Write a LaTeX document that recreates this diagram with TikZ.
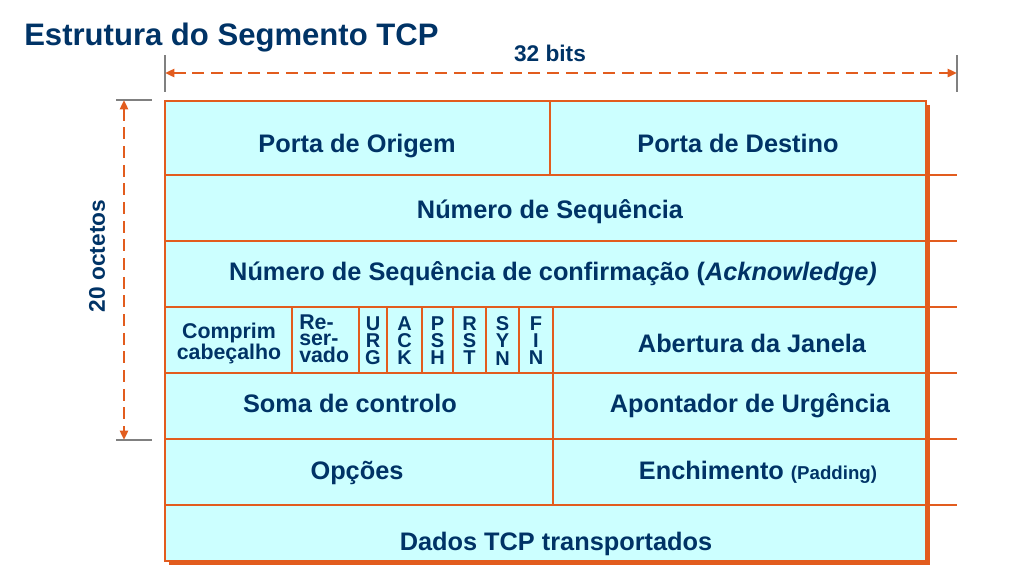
\documentclass[tikz,border=0pt]{standalone}
\usepackage{fontspec}
\setmainfont{Liberation Sans}
\usetikzlibrary{arrows.meta}
\definecolor{tcporange}{RGB}{226,92,30}
\definecolor{tcpnavy}{RGB}{0,51,102}
\definecolor{tcpcyan}{RGB}{204,255,255}
\definecolor{tcpgray}{RGB}{128,128,128}
\tikzset{
    fieldtxt/.style={font=\fontsize{19}{21}\selectfont\bfseries, text=tcpnavy, anchor=base, inner sep=0pt},
    smalltxt/.style={font=\fontsize{16}{14.25}\selectfont\bfseries, text=tcpnavy, anchor=north, inner sep=0pt},
    flagtxt/.style={font=\fontsize{15}{13.1}\selectfont\bfseries, text=tcpnavy, align=center, anchor=north, inner sep=0pt},
    dimtxt/.style={font=\fontsize{17}{19}\selectfont\bfseries, text=tcpnavy, inner sep=0pt},
    gridline/.style={draw=tcporange, line width=1.5pt},
    tickline/.style={draw=tcpgray, line width=1.5pt},
    dimarr/.style={{Triangle[length=7pt,width=6pt]}-{Triangle[length=7pt,width=6pt]}, dash pattern=on 9pt off 5pt, line width=2pt, draw=tcporange}
}
\begin{document}
\begin{tikzpicture}[x=0.75pt,y=-0.75pt]
    \useasboundingbox (0,0) rectangle (1017,576);

    \node[anchor=base west, font=\fontsize{23.3}{26}\selectfont\bfseries, text=tcpnavy, inner sep=0pt] (title) at (24,45) {Estrutura do Segmento TCP};

    % width: 32 bits
    \coordinate (wl) at (165,73);
    \coordinate (wr) at (957,73);
    \draw[tickline] (165,55) -- (165,92);
    \draw[tickline] (957,55) -- (957,92);
    \draw[dimarr] (wl) -- (wr);
    \node[dimtxt, anchor=base] (bits) at (550,61) {32 bits};

    % height: 20 octetos
    \coordinate (ht) at (124,100);
    \coordinate (hb) at (124,440);
    \draw[tickline] (116,100) -- (152,100);
    \draw[tickline] (116,440) -- (152,440);
    \draw[dimarr] (ht) -- (hb);
    \node[dimtxt, rotate=90] (octets) at (97,256) {20 octetos};

    % segment box
    \fill[tcporange] (169,105) rectangle (930,565);
    \draw[gridline, fill=tcpcyan] (165,101) rectangle (926,561);
    \foreach \y in {175,241,307,373,439,505}
        \draw[gridline] (165,\y) -- (926,\y) (930,\y) -- (957,\y);
    \draw[gridline] (550,101) -- (550,175);
    \draw[gridline] (553,307) -- (553,505);
    \foreach \x in {292,359,387,422,453,486,519}
        \draw[gridline] (\x,307) -- (\x,373);

    \node[fieldtxt] (srcport) at (357,152) {Porta de Origem};
    \node[fieldtxt] (dstport) at (738,152) {Porta de Destino};
    \node[fieldtxt] (seqnum) at (550,218) {Número de Sequência};
    \node[fieldtxt] (acknum) at (553,280) {Número de Sequência de confirmação (\textit{Acknowledge)}};

    \node[smalltxt, align=center] (hdrlen) at (229,323) {Comprim\\cabeçalho};
    \node[smalltxt, align=left, anchor=north west, font=\fontsize{16}{11.6}\selectfont\bfseries] (reserved) at (299,315) {Re-\\ser-\\vado};
    \node[flagtxt] (furg) at (373,316) {U\\R\\G};
    \node[flagtxt] (fack) at (404.5,316) {A\\C\\K};
    \node[flagtxt] (fpsh) at (437.5,316) {P\\S\\H};
    \node[flagtxt] (frst) at (469.5,316) {R\\S\\T};
    \node[flagtxt] (fsyn) at (502.5,316) {S\\Y\\N};
    \node[flagtxt] (ffin) at (536,316) {F\\I\\N};
    \node[fieldtxt] (window) at (752,352) {Abertura da Janela};

    \node[fieldtxt] (checksum) at (350,412) {Soma de controlo};
    \node[fieldtxt] (urgptr) at (750,412) {Apontador de Urgência};
    \node[fieldtxt] (options) at (357,479) {Opções};
    \node[fieldtxt] (padding) at (758,479) {Enchimento {\fontsize{14}{16}\selectfont (Padding)}};
    \node[fieldtxt] (data) at (556,550) {Dados TCP transportados};
\end{tikzpicture}
\end{document}
